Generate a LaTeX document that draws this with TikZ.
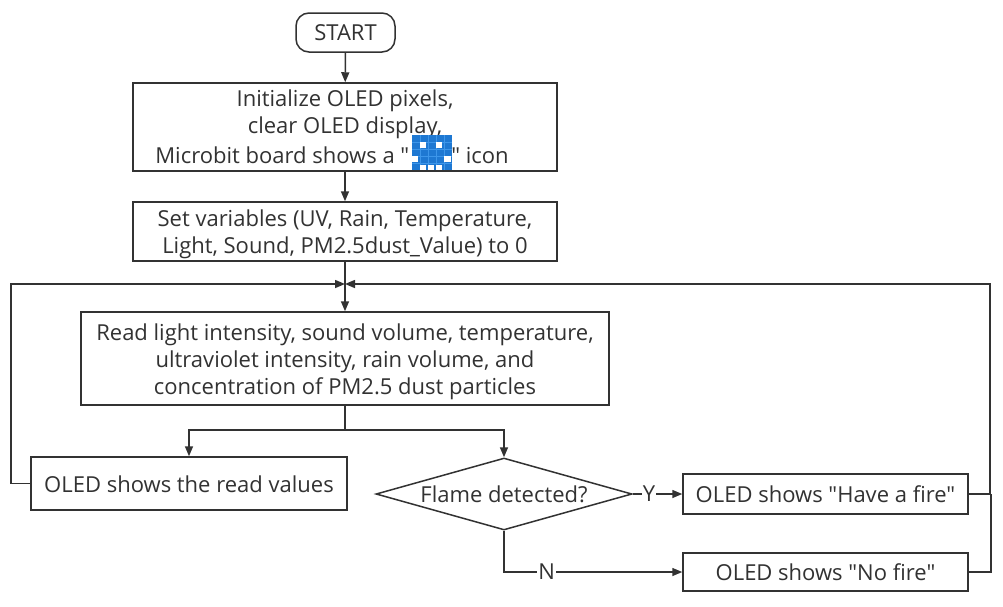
\documentclass[tikz,border=0pt]{standalone}
\usepackage{fontspec}
\setmainfont{Open Sans}[Ligatures=TeXOff]
\usetikzlibrary{arrows.meta,shapes.geometric,calc}
\definecolor{ink}{HTML}{323232}
\definecolor{iconblue}{HTML}{1E78D2}
\definecolor{icongrid}{HTML}{3D96EA}
\newcommand{\lowered}[1]{\rule{0pt}{#1}}
\tikzset{
  x=1pt,y=-1pt,
  every node/.style={text=ink,font=\fontsize{22}{27}\selectfont},
  boxed/.style={draw=ink,line width=1.5pt,rectangle,inner sep=0pt,align=center},
  terminal/.style={boxed,rounded corners=13pt},
  decision/.style={draw=ink,line width=1.5pt,diamond,aspect=3.55,inner sep=0pt},
  link/.style={draw=ink,line width=1.5pt,-{Triangle[length=10pt,width=8pt]}},
  plainlink/.style={draw=ink,line width=1.5pt},
  edgelabel/.style={fill=white,inner sep=1pt},
  cell/.style={fill=white}
}
\begin{document}
\begin{tikzpicture}
\useasboundingbox (0,0) rectangle (1003,606);
\fill[white] (0,0) rectangle (1003,606);
\node[terminal,minimum width=99pt,minimum height=39pt] (start) at (345.5,32.5) {START};
\node[boxed,minimum width=424pt,minimum height=88pt] (init) at (345,127) {Initialize OLED pixels,\\clear OLED display,\\[3pt]Microbit board shows a "\hspace{42pt}" icon\hspace*{26pt}};
\node[boxed,minimum width=424pt,minimum height=59pt] (vars) at (345,231.5) {\lowered{23pt}Set variables (UV, Rain, Temperature,\\Light, Sound, PM2.5dust\_Value) to 0};
\coordinate (join) at (345,284);
\node[boxed,minimum width=528pt,minimum height=93pt] (read) at (345,358.5) {\lowered{23pt}Read light intensity, sound volume, temperature,\\ultraviolet intensity, rain volume, and\\concentration of PM2.5 dust particles};
\coordinate (split) at (345,430);
\node[boxed,minimum width=316pt,minimum height=53pt] (show) at (189,483.5) {\lowered{18pt}OLED shows the read values};
\node[decision,minimum width=256pt,minimum height=72pt] (flame) at (504,494) {Flame detected?};
\node[boxed,minimum width=285pt,minimum height=40pt] (fire) at (825.5,494) {\lowered{18pt}OLED shows "Have a fire"};
\node[boxed,minimum width=285pt,minimum height=38pt] (nofire) at (825.5,572) {OLED shows "No fire"};
\coordinate (leftrail) at (11,284);
\coordinate (rightrail) at (990,284);
% icon
\fill[iconblue] (412,135) rectangle (452,170);
\foreach \gx in {420,428,436,444}
  \draw[icongrid,line width=.6pt] (\gx,135) -- (\gx,170);
\foreach \gy in {142,149,156,163}
  \draw[icongrid,line width=.6pt] (412,\gy) -- (452,\gy);
\foreach \xa/\ya/\xb/\yb in {420/142/426/148,436/142/442/148,412/156/418/162,444/156/451/162,420/165/426/170,428/165/434/170,436/165/442/170}
  \fill[cell] (\xa,\ya) rectangle (\xb,\yb);
% connectors
\draw[link] (start) -- (init);
\draw[link] (init) -- (vars);
\draw[link] (vars) -- (read);
\draw[plainlink] (read.south) -- (split);
\draw[link] (split) -| (show.north);
\draw[link] (split) -| (flame.north);
\draw[link] (show.west) -| (leftrail) -- (join);
\draw[link] (fire.east) -| (rightrail) -- (join);
\draw[plainlink] (nofire.east) -| ($(fire.east)+(22,0)$);
\draw[link] (flame.east) -- node[edgelabel,pos=.33] (ylab) {Y} (fire.west);
\draw[link] (flame.south) |- node[edgelabel,pos=.62] (nlab) {N} (nofire.west);
\end{tikzpicture}
\end{document}
